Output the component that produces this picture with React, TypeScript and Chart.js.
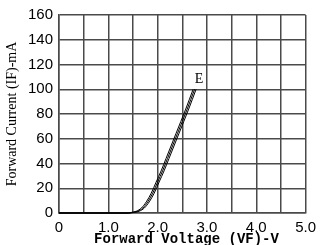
import React, { useEffect, useRef } from "react";
import { Chart, registerables } from "chart.js";

Chart.register(...registerables);

const voltageMid = [0, 1.4, 1.5, 1.6, 1.7, 1.8, 1.9, 2.0, 2.1, 2.2, 2.4, 2.6, 2.75];
const currentMid = [0, 0, 0.5, 1.5, 4, 9, 16, 25, 34, 44, 64, 84, 100];
const curveOffsets = [-0.03, 0, 0.03];
const xTickValues = [0, 1, 2, 3, 4, 5];
const xTickLabels = ["0", "1.0", "2.0", "3.0", "4.0", "5.0"];
const curveLabel = "E";
const curveLabelPos = { x: 2.84, y: 108 };

const gridColor = "#4a4a4a";

const labelPlugin = {
  id: "curveLabel",
  afterDatasetsDraw(chart: any) {
    const { ctx, scales } = chart;
    const px = scales.x.getPixelForValue(curveLabelPos.x);
    const py = scales.y.getPixelForValue(curveLabelPos.y);
    ctx.save();
    ctx.fillStyle = "#000";
    ctx.font = "14px 'Liberation Serif'";
    ctx.textAlign = "center";
    ctx.textBaseline = "middle";
    ctx.fillText(curveLabel, px, py);
    ctx.restore();
  },
};

export default function App() {
  const ref = useRef<HTMLCanvasElement | null>(null);
  useEffect(() => {
    if (!ref.current) return;
    const datasets = curveOffsets.map((off) => ({
      data: voltageMid.map((v, i) => ({ x: i < 2 ? v : v + off, y: currentMid[i] })),
      borderColor: "#000",
      borderWidth: 1,
      pointRadius: 0,
      cubicInterpolationMode: "monotone" as const,
      fill: false,
      clip: false as any,
    }));
    const chart = new Chart(ref.current, {
      type: "line",
      data: { datasets },
      plugins: [labelPlugin],
      options: {
        animation: false,
        responsive: true,
        maintainAspectRatio: false,
        layout: { padding: { left: 0, right: 14, top: 14, bottom: 0 } },
        plugins: { legend: { display: false }, tooltip: { enabled: false } },
        scales: {
          x: {
            type: "linear",
            min: 0,
            max: 5,
            afterFit: (s: any) => { s.height = 32; },
            afterBuildTicks: (s: any) => {
              const t = [];
              for (let i = 0; i <= 10; i++) t.push({ value: i * 0.5 });
              s.ticks = t;
            },
            grid: { color: gridColor, lineWidth: 1.5, drawTicks: false },
            border: { color: gridColor, width: 1.5 },
            ticks: {
              autoSkip: false,
              maxRotation: 0,
              padding: 6,
              color: "#000",
              font: { family: "'Liberation Sans'", size: 15 },
              callback: (v: any) => {
                const idx = xTickValues.indexOf(Number(v));
                return idx >= 0 ? xTickLabels[idx] : "";
              },
            },
            title: {
              display: true,
              text: " Forward Voltage (VF)-V",
              color: "#000",
              font: { family: "'Liberation Mono'", size: 14, weight: "bold" },
              padding: { top: 0, bottom: -3 },
            },
          },
          y: {
            type: "linear",
            min: 0,
            max: 160,
            afterFit: (s: any) => { s.width = 59; },
            grid: { color: gridColor, lineWidth: 1.5, drawTicks: false },
            border: { color: gridColor, width: 1.5 },
            ticks: {
              stepSize: 20,
              padding: 6,
              color: "#000",
              font: { family: "'Liberation Sans'", size: 15 },
            },
            title: {
              display: true,
              text: "Forward Current (IF)-mA",
              color: "#000",
              font: { family: "'Liberation Serif'", size: 14 },
              padding: { top: 4, bottom: 0 },
            },
          },
        },
      },
    });
    return () => chart.destroy();
  }, []);
  return (
    <div style={{ position: "absolute", left: 0, top: 0, width: 322, height: 245, background: "#fff" }}>
      <canvas ref={ref} />
    </div>
  );
}
